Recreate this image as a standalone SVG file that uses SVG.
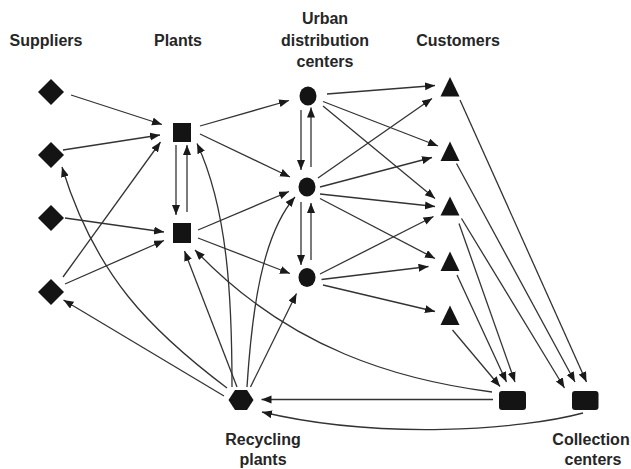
<svg xmlns="http://www.w3.org/2000/svg" width="631" height="469" viewBox="0 0 631 469">
<defs>
<marker id="ah" markerUnits="userSpaceOnUse" markerWidth="11" markerHeight="9" refX="10" refY="4" orient="auto">
<path d="M0,0 L10,4 L0,8 z" fill="#1a1a1a"/>
</marker>
<style>
.lbl{font-family:"Liberation Sans",Arial,sans-serif;font-weight:bold;font-size:16px;fill:#262626;text-anchor:middle}
.n{fill:#141414}
.e line,.e path{stroke:#333;stroke-width:1.3;fill:none;marker-end:url(#ah)}
</style>
</defs>
<rect width="631" height="469" fill="#fff"/>

<g id="labels">
<text class="lbl" x="46" y="46">Suppliers</text>
<text class="lbl" x="178" y="46">Plants</text>
<text class="lbl" x="325" y="24">Urban<tspan x="325" dy="21.5">distribution</tspan><tspan x="325" dy="21">centers</tspan></text>
<text class="lbl" x="458" y="46">Customers</text>
<text class="lbl" x="263" y="445">Recycling<tspan x="263" dy="19.5">plants</tspan></text>
<text class="lbl" x="591" y="445">Collection<tspan x="593" dy="19.5">centers</tspan></text>
</g>

<g id="s1"><polygon class="n" points="51,79 64,92 51,105 38,92"/></g>
<g id="s2"><polygon class="n" points="51,142 64,155 51,168 38,155"/></g>
<g id="s3"><polygon class="n" points="51,205 64,218 51,231 38,218"/></g>
<g id="s4"><polygon class="n" points="51,279 64,292 51,305 38,292"/></g>

<g id="p1"><rect class="n" x="173" y="123" width="18" height="19"/></g>
<g id="p2"><rect class="n" x="173" y="223" width="18" height="20"/></g>

<g id="d1"><ellipse class="n" cx="308" cy="96" rx="8.5" ry="9.5"/></g>
<g id="d2"><ellipse class="n" cx="307" cy="187" rx="8.5" ry="9.5"/></g>
<g id="d3"><ellipse class="n" cx="307" cy="277.5" rx="8.5" ry="9.5"/></g>

<g id="c1"><polygon class="n" points="450,77 459.5,96.5 440.5,96.5"/></g>
<g id="c2"><polygon class="n" points="450,141.5 459.5,161 440.5,161"/></g>
<g id="c3"><polygon class="n" points="450,196.5 459.5,215.5 440.5,215.5"/></g>
<g id="c4"><polygon class="n" points="450,251.5 459.5,271 440.5,271"/></g>
<g id="c5"><polygon class="n" points="450,305.5 459.5,325 440.5,325"/></g>

<g id="cc1"><rect class="n" x="499" y="391" width="27" height="19" rx="3"/></g>
<g id="cc2"><rect class="n" x="572" y="391" width="26.5" height="19" rx="3"/></g>

<g id="r1"><polygon class="n" points="235,390 247,390 253.5,400 247,410 235,410 228.5,400"/></g>

<g id="connectors" class="e">
<!-- suppliers to plants -->
<line x1="71" y1="95" x2="162" y2="124.5"/>
<line x1="63" y1="150" x2="160" y2="135"/>
<line x1="65" y1="218" x2="164" y2="232"/>
<line x1="65" y1="284" x2="164" y2="240.5"/>
<line x1="63" y1="277" x2="160.5" y2="142"/>
<!-- plants vertical -->
<line x1="176" y1="145" x2="176" y2="215"/>
<line x1="187" y1="212" x2="187" y2="145"/>
<!-- plants to DCs -->
<line x1="200" y1="126" x2="289" y2="100.5"/>
<line x1="200" y1="134" x2="290" y2="177"/>
<line x1="198" y1="230" x2="289" y2="191.5"/>
<line x1="198" y1="238" x2="290" y2="273.5"/>
<!-- DC vertical -->
<line x1="301" y1="110" x2="301" y2="170"/>
<line x1="311" y1="167" x2="311" y2="107.5"/>
<line x1="301" y1="202" x2="301" y2="265"/>
<line x1="311" y1="260" x2="311" y2="203"/>
<!-- DCs to customers -->
<line x1="327" y1="94" x2="435" y2="85.5"/>
<line x1="323" y1="101.5" x2="438" y2="146"/>
<line x1="323" y1="106" x2="435" y2="198.5"/>
<line x1="318" y1="178" x2="432" y2="98.5"/>
<line x1="320" y1="187" x2="432" y2="157.5"/>
<line x1="320" y1="194" x2="435" y2="206.5"/>
<line x1="320" y1="198.5" x2="435" y2="258.5"/>
<line x1="320" y1="274" x2="433.5" y2="216.5"/>
<line x1="321.5" y1="279.5" x2="428.5" y2="266.5"/>
<line x1="323" y1="285" x2="435" y2="311.5"/>
<!-- customers to collection -->
<line x1="460" y1="100" x2="586.5" y2="382"/>
<line x1="456.5" y1="163.5" x2="575" y2="382"/>
<line x1="461.5" y1="218.5" x2="564.5" y2="388"/>
<line x1="459" y1="223.5" x2="515" y2="382"/>
<line x1="457" y1="275" x2="506.5" y2="382"/>
<line x1="452.5" y1="330" x2="500" y2="386.5"/>
<!-- collection to recycling / plants -->
<line x1="493" y1="399.5" x2="261.5" y2="399.5"/>
<path d="M583,413 C520,430 380,440 262,412"/>
<path d="M492,392 C400,380 290,350 195,250"/>
<!-- recycling outgoing -->
<line x1="224" y1="396" x2="63.5" y2="300"/>
<path d="M227,388 C150,330 95,275 62,167"/>
<line x1="237" y1="387" x2="184.5" y2="251"/>
<path d="M232,387 C232,300 228,210 197,143.5"/>
<path d="M247,387 C252,310 262,235 295,197"/>
<line x1="250.5" y1="387" x2="296.5" y2="293.5"/>
</g>
</svg>
